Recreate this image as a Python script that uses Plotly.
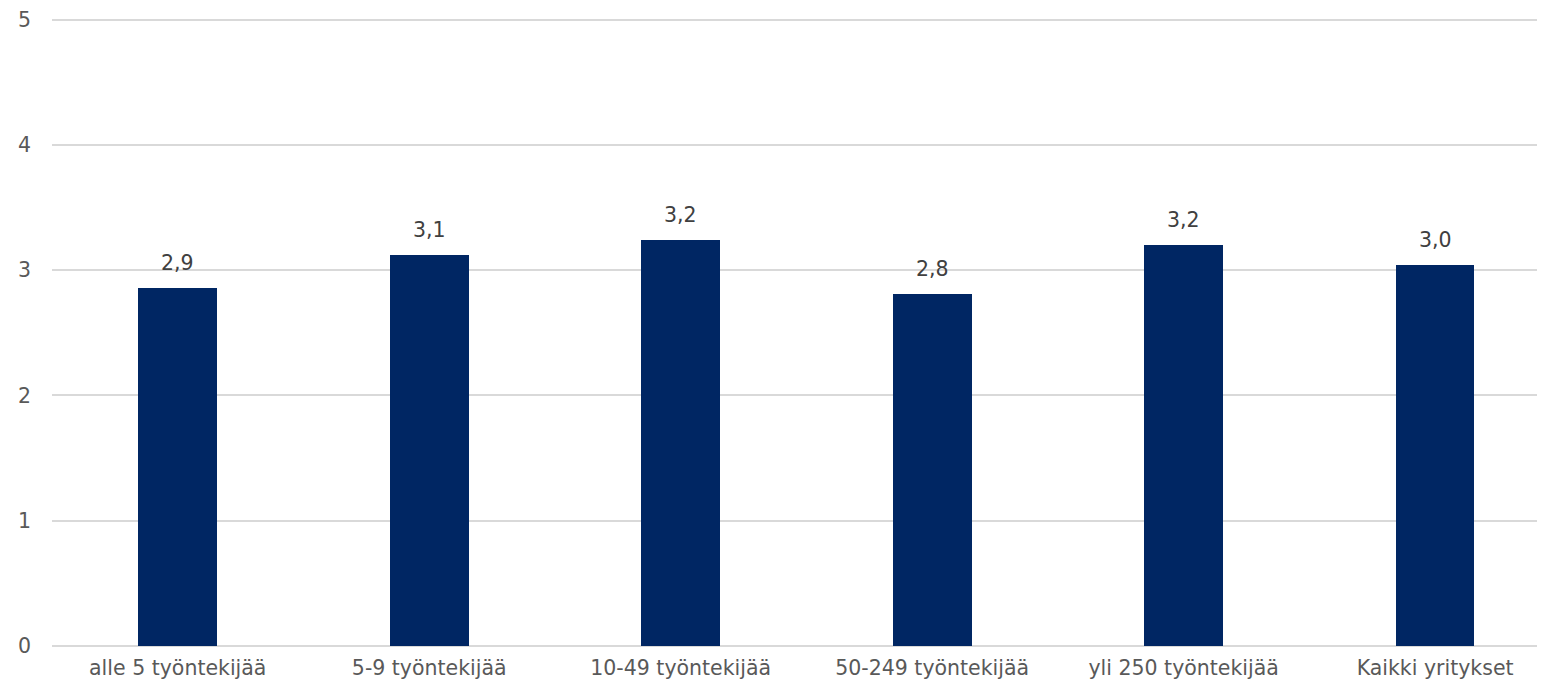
import plotly.graph_objects as go

categories = ["alle 5 työntekijää", "5-9 työntekijää", "10-49 työntekijää",
              "50-249 työntekijää", "yli 250 työntekijää", "Kaikki yritykset"]
values = [2.86, 3.12, 3.24, 2.81, 3.20, 3.04]
y_ticks = [0, 1, 2, 3, 4, 5]

FONT = "DejaVu Sans"
FS = 20.5
BAR_COLOR = "#002663"

fig = go.Figure()
fig.add_trace(go.Bar(
    x=categories, y=values,
    marker=dict(color=BAR_COLOR, line=dict(width=0)),
    width=0.313,
    hoverinfo="skip",
))

for c, v in zip(categories, values):
    fig.add_annotation(
        x=c, y=v, text=f"{v:.1f}".replace(".", ","),
        showarrow=False, yanchor="bottom", yshift=11,
        font=dict(family=FONT, size=FS, color="#404040"),
    )

# page body has an 8px default margin, so the figure is sized to fill the rest
fig.update_layout(
    width=1537, height=681,
    margin=dict(l=44, r=0, t=7, b=43),
    paper_bgcolor="white", plot_bgcolor="white",
    showlegend=False,
    bargap=0.0,
    font=dict(family=FONT, size=FS, color="#595959"),
)
fig.update_xaxes(
    range=[-0.5, 5.437],
    showgrid=False, showline=False, zeroline=False,
    ticks="", tickfont=dict(family=FONT, size=FS, color="#595959"),
    ticklabelstandoff=7, ticklabeloverflow="allow",
)
fig.update_yaxes(
    range=[0, 5.02], tickvals=y_ticks, ticktext=[str(t) for t in y_ticks],
    showgrid=True, gridcolor="#d9d9d9", gridwidth=1.5,
    zeroline=True, zerolinecolor="#d9d9d9", zerolinewidth=1.5,
    showline=False, ticks="",
    tickfont=dict(family=FONT, size=FS, color="#595959"),
    ticklabelstandoff=20, ticklabeloverflow="allow",
)

fig.write_html("out.html")
